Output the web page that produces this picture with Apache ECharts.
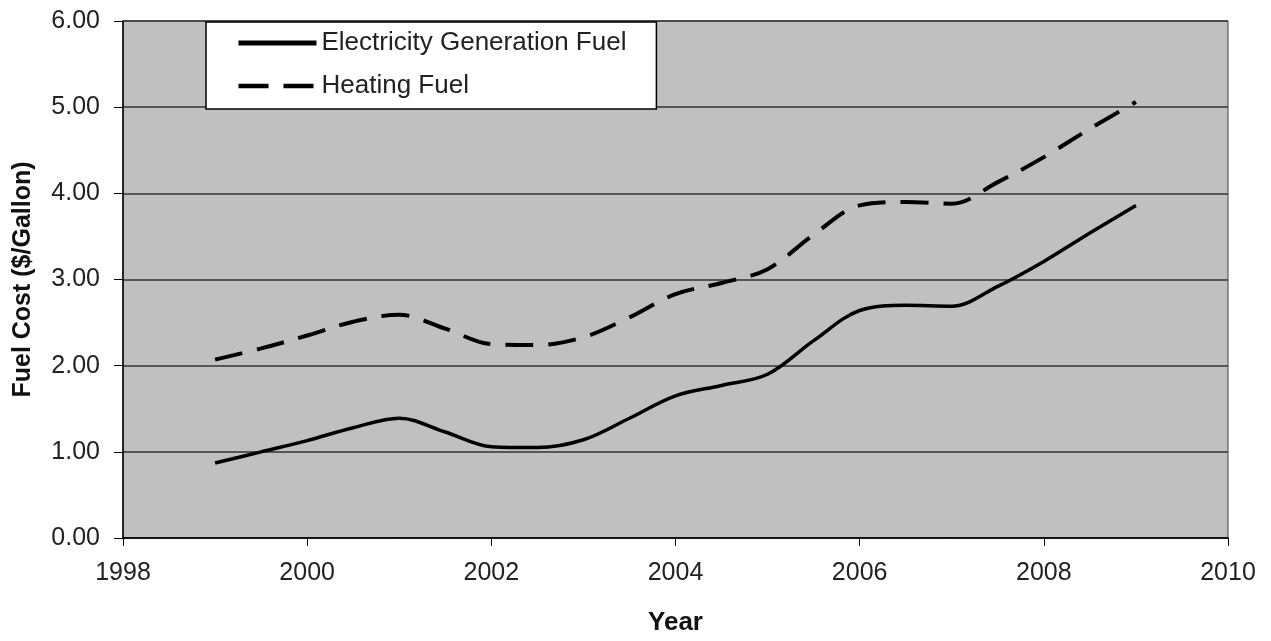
<!DOCTYPE html>
<html>
<head>
<meta charset="utf-8">
<script src="https://cdn.jsdelivr.net/npm/echarts@6/dist/echarts.min.js"></script>
<style>html,body{margin:0;padding:0;background:#fff}#c{width:1271px;height:641px}</style>
</head>
<body>
<div id="c"></div>
<script>
const years = [1999,1999.5,2000,2000.5,2001,2001.5,2002,2002.5,2003,2003.5,2004,2004.5,2005,2005.5,2006,2006.5,2007,2007.5,2008,2008.5,2009];
const electricity = [0.87,1.00,1.13,1.28,1.39,1.23,1.06,1.05,1.14,1.39,1.65,1.77,1.90,2.29,2.64,2.70,2.69,2.92,3.21,3.54,3.86];
const heating = [2.07,2.20,2.35,2.51,2.59,2.43,2.25,2.24,2.33,2.56,2.83,2.96,3.12,3.52,3.86,3.90,3.88,4.13,4.42,4.75,5.06];
const seriesNames = ['Electricity Generation Fuel','Heating Fuel'];
const xTicks = {min:1998, max:2010, interval:2};
const yTicks = {min:0, max:6, interval:1};

const font = 'Liberation Sans, Arial, sans-serif';
const dash = [28,15];
const chart = echarts.init(document.getElementById('c'));
const pairs = (ys) => years.map((x,i)=>[x, ys[i]]);
chart.setOption({
  animation:false,
  backgroundColor:'#ffffff',
  grid:{left:123, right:43, top:21, bottom:99, show:true, backgroundColor:'#c0c0c0', borderColor:'#444', borderWidth:1},
  legend:{
    orient:'vertical', left:206, top:22,
    backgroundColor:'#ffffff', borderColor:'#000', borderWidth:1.5, borderRadius:0,
    padding:[8,30,10,30], itemGap:17, itemWidth:78, itemHeight:14,
    itemStyle:{opacity:0},
    textStyle:{fontFamily:font, fontSize:26, color:'#222'},
    data:[
      {name:seriesNames[0], lineStyle:{color:'#000', width:5, type:'solid'}},
      {name:seriesNames[1], lineStyle:{color:'#000', width:4.5, type:[30,15]}}
    ]
  },
  xAxis:{
    type:'value', min:xTicks.min, max:xTicks.max, interval:xTicks.interval,
    name:'Year', nameLocation:'middle', nameGap:72,
    nameTextStyle:{fontFamily:font, fontSize:26, fontWeight:'bold', color:'#111'},
    axisLine:{show:true, lineStyle:{color:'#000', width:1.5}},
    axisTick:{show:true, length:8, lineStyle:{color:'#000'}},
    axisLabel:{fontFamily:font, fontSize:25, color:'#222', margin:23, formatter:v=>String(v)},
    splitLine:{show:false}
  },
  yAxis:{
    type:'value', min:yTicks.min, max:yTicks.max, interval:yTicks.interval,
    name:'Fuel Cost ($/Gallon)', nameLocation:'middle', nameGap:87, nameRotate:90,
    nameTextStyle:{fontFamily:font, fontSize:25, fontWeight:'bold', color:'#111'},
    axisLine:{show:true, lineStyle:{color:'#000', width:1.5}},
    axisTick:{show:true, length:9, lineStyle:{color:'#000'}},
    axisLabel:{fontFamily:font, fontSize:25, color:'#222', margin:23, formatter:v=>v.toFixed(2)},
    splitLine:{show:true, lineStyle:{color:'#333', width:1.5}}
  },
  series:[
    {name:seriesNames[0], type:'line', data:pairs(electricity), smooth:0.35, symbol:'none',
     lineStyle:{color:'#000', width:3.5}, itemStyle:{color:'#000'}},
    {name:seriesNames[1], type:'line', data:pairs(heating), smooth:0.35, symbol:'none',
     lineStyle:{color:'#000', width:4, type:dash}, itemStyle:{color:'#000'}}
  ]
});
</script>
</body>
</html>
